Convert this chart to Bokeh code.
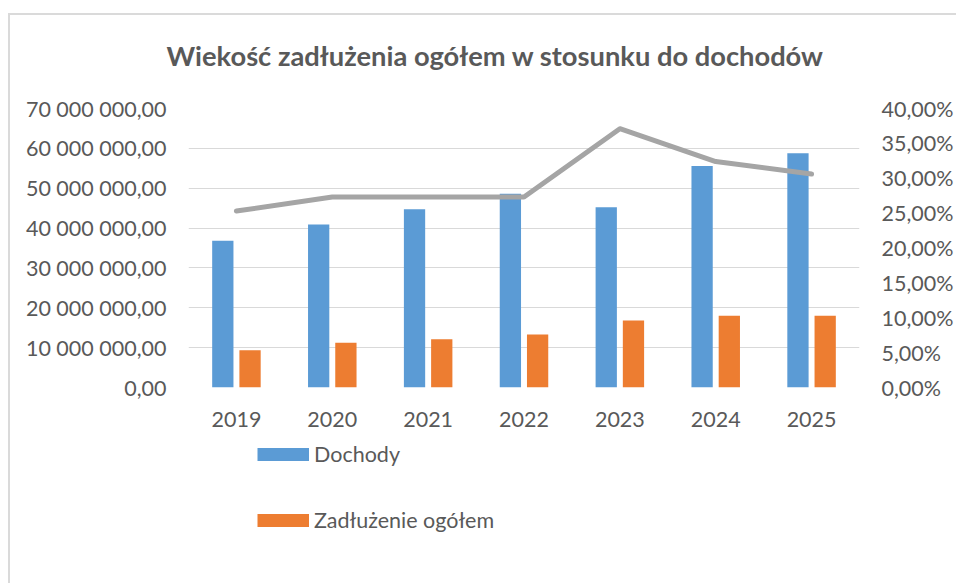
from bokeh.plotting import figure
from bokeh.layouts import column
from bokeh.models import (ColumnDataSource, FactorRange, Range1d, LinearAxis, FixedTicker,
                          Legend, LegendItem)
from bokeh.transform import dodge
from bokeh.embed import file_html
from bokeh.resources import INLINE

# ---- data ----
years = ["2019", "2020", "2021", "2022", "2023", "2024", "2025"]
dochody = [36_800_000, 40_900_000, 44_700_000, 48_600_000, 45_200_000, 55_600_000, 58_800_000]
zadluzenie = [9_360_000, 11_200_000, 12_100_000, 13_300_000, 16_800_000, 18_000_000, 18_000_000]
ratio_pct = [25.3, 27.3, 27.3, 27.3, 37.1, 32.4, 30.6]

left_ticks = [0, 10_000_000, 20_000_000, 30_000_000, 40_000_000, 50_000_000, 60_000_000, 70_000_000]
left_labels = ["0,00", "10 000 000,00", "20 000 000,00", "30 000 000,00", "40 000 000,00",
               "50 000 000,00", "60 000 000,00", "70 000 000,00"]
right_ticks = [0, 5, 10, 15, 20, 25, 30, 35, 40]
right_labels = ["0,00%", "5,00%", "10,00%", "15,00%", "20,00%", "25,00%", "30,00%", "35,00%", "40,00%"]

title_text = "Wiekość zadłużenia ogółem w stosunku do dochodów"
series_names = ["Dochody", "Zadłużenie ogółem"]

BLUE = "#5b9bd5"
ORANGE = "#ed7d31"
GRAY = "#a5a5a5"
TEXT = "#595959"
GRID = "#d9d9d9"
FONT = "Lato"
FS = "21.5px"

src = ColumnDataSource(dict(year=years, dochody=dochody, zadl=zadluzenie, ratio=ratio_pct))

# ---------------- main chart ----------------
p = figure(width=956, height=440, output_backend="svg", toolbar_location=None,
           x_range=FactorRange(factors=years, range_padding=0),
           y_range=Range1d(0, 70_000_000))
p.min_border_left = 188
p.min_border_right = 96
p.min_border_top = 108
p.min_border_bottom = 53
p.outline_line_color = None
p.background_fill_color = "white"
p.border_fill_color = None

p.extra_y_ranges = {"pct": Range1d(0, 40)}

r_blue = p.vbar(x=dodge("year", -0.142, range=p.x_range), top="dochody", width=0.222,
                source=src, fill_color=BLUE, line_color=None)
r_orange = p.vbar(x=dodge("year", 0.142, range=p.x_range), top="zadl", width=0.222,
                  source=src, fill_color=ORANGE, line_color=None)
p.line(x="year", y="ratio", source=src, y_range_name="pct", line_color=GRAY,
       line_width=5, line_cap="round", line_join="round")

# grid
p.xgrid.grid_line_color = None
p.ygrid.grid_line_color = GRID
p.ygrid.grid_line_width = 1

# left axis
ya = p.yaxis[0]
ya.ticker = FixedTicker(ticks=left_ticks)
ya.major_label_overrides = {t: l for t, l in zip(left_ticks, left_labels)}
p.ygrid.ticker = FixedTicker(ticks=left_ticks)

# right axis
ra = LinearAxis(y_range_name="pct", ticker=FixedTicker(ticks=right_ticks))
ra.major_label_overrides = {t: l for t, l in zip(right_ticks, right_labels)}
p.add_layout(ra, "right")

for ax in [ya, ra, p.xaxis[0]]:
    ax.axis_line_color = None
    ax.major_tick_line_color = None
    ax.minor_tick_line_color = None
    ax.major_tick_out = 0
    ax.major_tick_in = 0
    ax.minor_tick_out = 0
    ax.major_label_text_font = FONT
    ax.major_label_text_font_size = FS
    ax.major_label_text_color = TEXT
ya.major_label_standoff = 22
ra.major_label_standoff = 22
p.xaxis[0].major_label_standoff = 24

# title
p.title.text = title_text
p.title.align = "left"
p.title.offset = -22
p.title.standoff = 73
p.title.text_font = FONT
p.title.text_font_style = "bold"
p.title.text_font_size = "27.3px"
p.title.text_color = TEXT

# ---------------- legend strip ----------------
lg = figure(width=956, height=143, output_backend="svg", toolbar_location=None,
            x_axis_location=None, y_axis_location=None,
            x_range=Range1d(0, 1), y_range=Range1d(0, 1))
lg.min_border_left = lg.min_border_right = lg.min_border_top = lg.min_border_bottom = 0
lg.outline_line_color = None
lg.background_fill_color = None
lg.border_fill_color = None
lg.xgrid.visible = False
lg.ygrid.visible = False
lg.title.visible = False

# legend proxies: series data far outside this strip's 0..1 ranges, so only the
# legend swatch (a flat 13px bar) is drawn
sw_blue = lg.line(x="ratio", y="ratio", source=src, line_color=BLUE, line_width=13, line_cap="butt")
sw_orange = lg.line(x="ratio", y="ratio", source=src, line_color=ORANGE, line_width=13, line_cap="butt")

legend = Legend(items=[LegendItem(label=series_names[0], renderers=[sw_blue]),
                       LegendItem(label=series_names[1], renderers=[sw_orange])],
                location=(69, 50), orientation="vertical",
                glyph_width=52, glyph_height=26, label_standoff=5,
                label_text_font=FONT, label_text_font_size=FS, label_text_color=TEXT,
                label_height=26, spacing=40, padding=0, margin=0,
                border_line_color=None, background_fill_alpha=0)
lg.add_layout(legend)

layout = column(p, lg, spacing=0)
layout.styles = {
    "background": ("linear-gradient(#dadada,#dadada) 8px 13px / 2px 100% no-repeat, "
                   "linear-gradient(#dadada,#dadada) 8px 13px / 100% 2px no-repeat, white"),
}

open("out.html", "w").write(file_html(layout, INLINE))
